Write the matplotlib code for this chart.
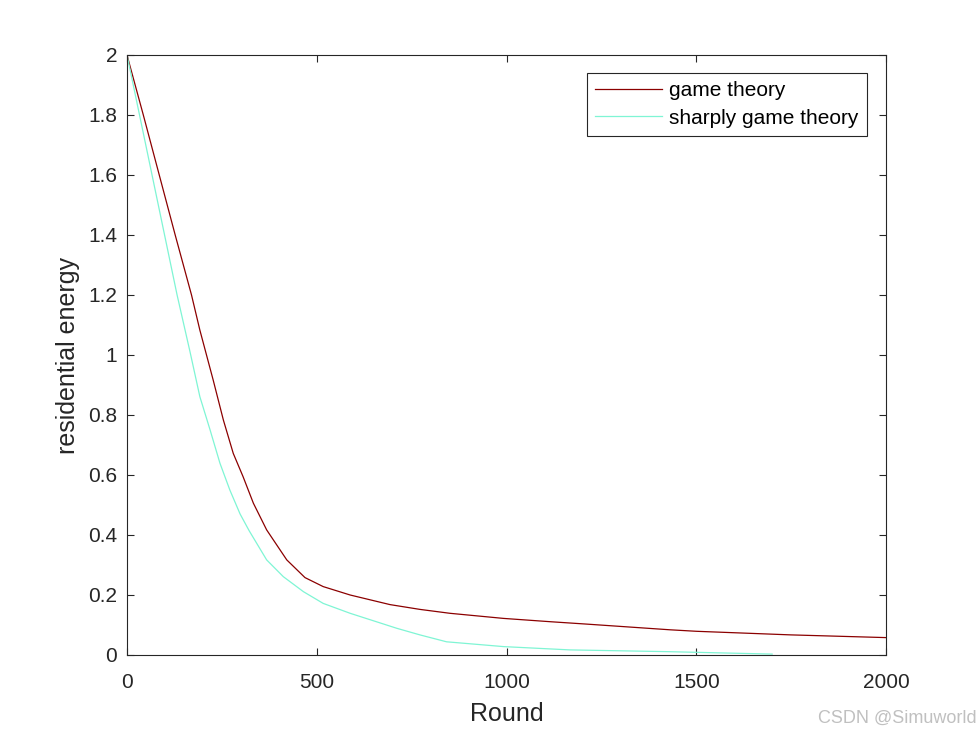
import matplotlib
matplotlib.use('Agg')
import matplotlib.pyplot as plt
import numpy as np

plt.rcParams['font.family'] = ['Liberation Sans', 'DejaVu Sans']

# game theory curve (dark red)
round_gt = [0, 43, 85, 127, 170, 192, 227, 254, 280, 306, 333, 368, 386, 421, 469,
            517, 588, 693, 772, 851, 992, 1115, 1211, 1431, 1501, 1750, 2000]
energy_gt = [2.0, 1.8, 1.6, 1.4, 1.2, 1.083, 0.917, 0.783, 0.672, 0.594, 0.506, 0.417,
             0.383, 0.317, 0.258, 0.228, 0.2, 0.168, 0.152, 0.139, 0.122, 0.111, 0.103,
             0.084, 0.079, 0.067, 0.058]

# sharply game theory curve (aquamarine)
round_sgt = [0, 33, 66, 99, 132, 166, 192, 219, 245, 271, 298, 322, 368, 412, 465,
             517, 588, 711, 772, 842, 992, 1167, 1431, 1700]
energy_sgt = [2.0, 1.8, 1.6, 1.4, 1.2, 1.011, 0.861, 0.75, 0.639, 0.55, 0.47, 0.414,
              0.317, 0.261, 0.211, 0.172, 0.139, 0.089, 0.067, 0.044, 0.028, 0.017,
              0.011, 0.003]

xticks = [0, 500, 1000, 1500, 2000]
yticks = [0, 0.2, 0.4, 0.6, 0.8, 1, 1.2, 1.4, 1.6, 1.8, 2]
ylabels = ['0', '0.2', '0.4', '0.6', '0.8', '1', '1.2', '1.4', '1.6', '1.8', '2']

fig = plt.figure(figsize=(9.8, 7.35), dpi=100)
ax = fig.add_axes([127/980, 80/735, 759/980, 600/735])

ax.plot(round_gt, energy_gt, color='#8b0000', lw=0.9, label='game theory')
ax.plot(round_sgt, energy_sgt, color='#7ff5d4', lw=0.9, label='sharply game theory')

ax.set_xlim(0, 2000)
ax.set_ylim(0, 2)
ax.set_xticks(xticks)
ax.set_yticks(yticks)
ax.set_yticklabels(ylabels)
ax.tick_params(direction='in', top=True, right=True, length=5, width=0.8,
               labelsize=15, colors='#262626', pad=7)
ax.tick_params(axis='x', pad=13)
for s in ax.spines.values():
    s.set_linewidth(0.8)
    s.set_color('#262626')

ax.set_xlabel('Round', fontsize=18, color='#262626', labelpad=7)
ax.set_ylabel('residential energy', fontsize=18, color='#262626', labelpad=6)

leg = ax.legend(loc='upper right', bbox_to_anchor=(1 - 19/759, 1 - 18/600), fontsize=15,
                fancybox=False, framealpha=1, edgecolor='#262626',
                handlelength=3.2, borderpad=0.4, labelspacing=0.4, handletextpad=0.35,
                borderaxespad=0)
leg.get_frame().set_linewidth(0.8)

fig.text(0.997, 0.023, 'CSDN @Simuworld', ha='right', va='center', fontsize=13,
         color='#c0c0c0')

fig.savefig('out.png', dpi=100)
